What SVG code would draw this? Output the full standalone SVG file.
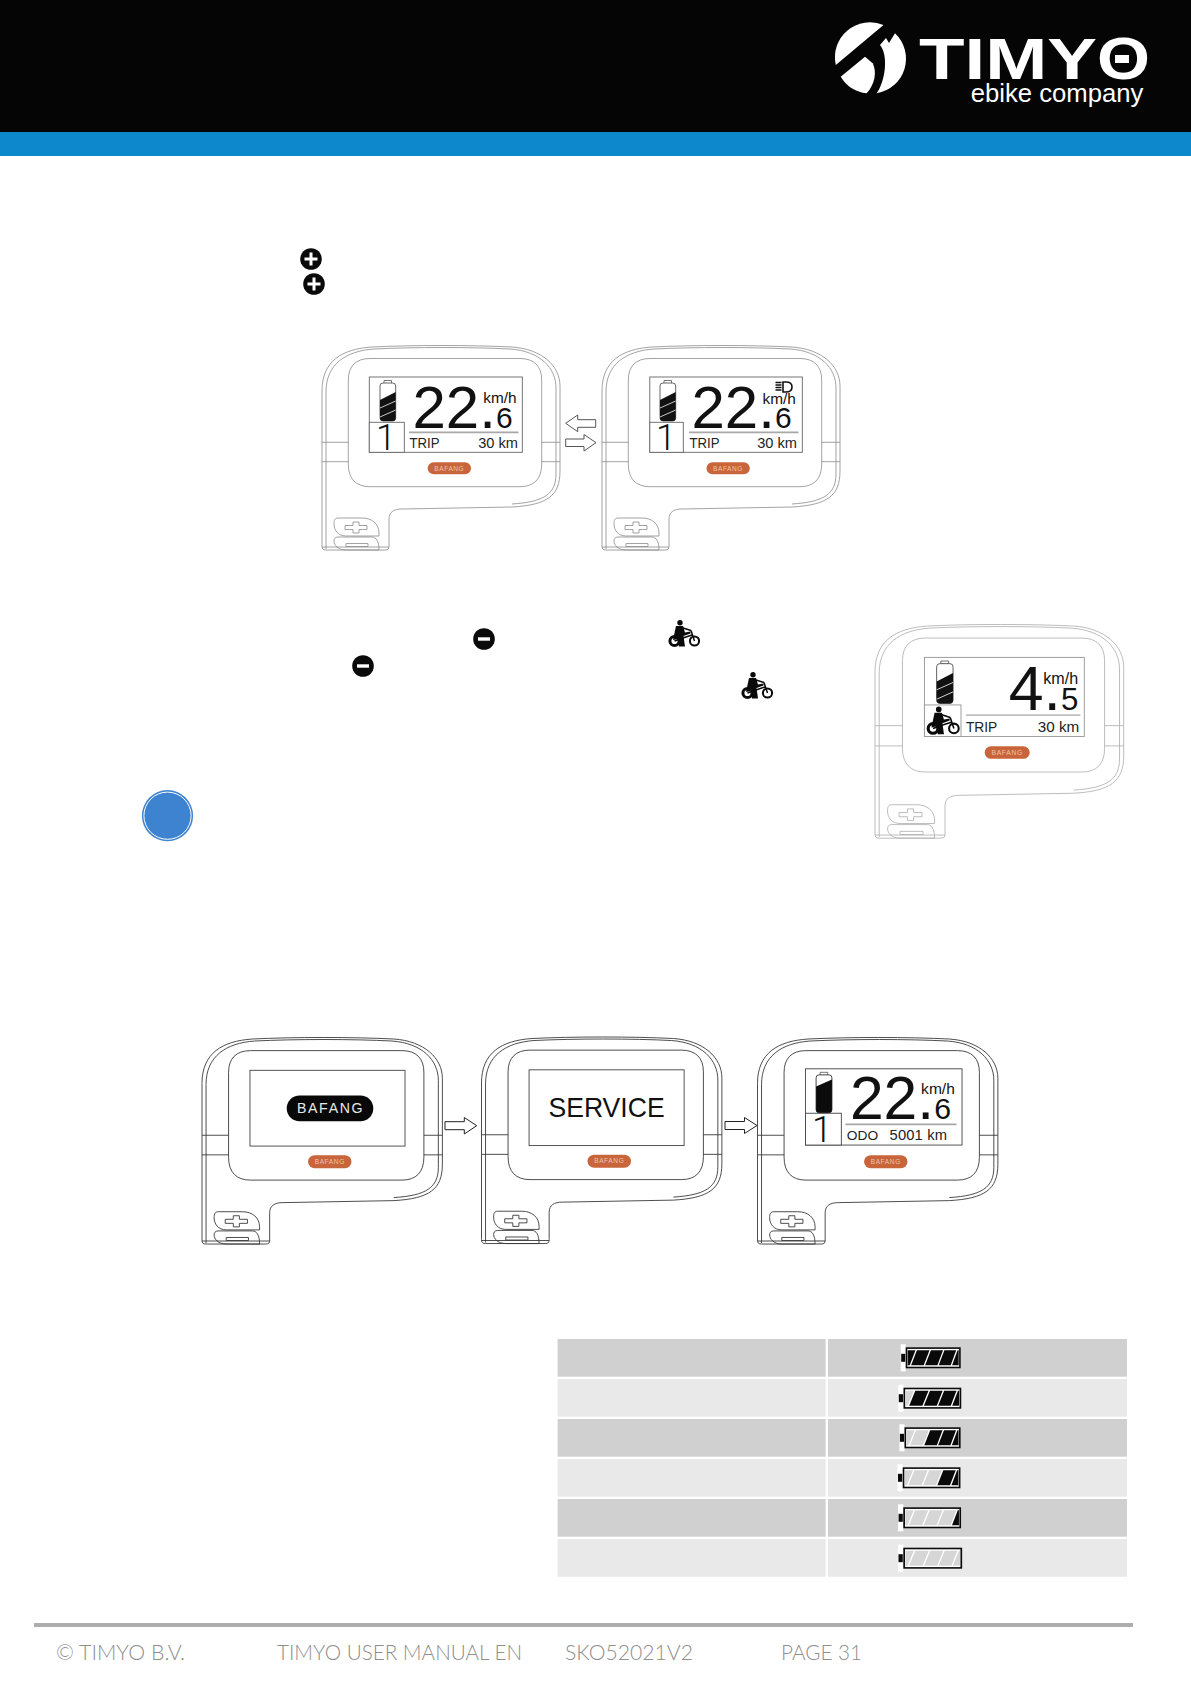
<svg xmlns="http://www.w3.org/2000/svg" xmlns:xlink="http://www.w3.org/1999/xlink" width="1191" height="1684" viewBox="0 0 1191 1684">
<style>
text{font-family:"Liberation Sans",Arial,sans-serif;fill:#111}
.big{font-size:60px}.frac{font-size:30px}
.unit{font-size:15.4px}.info{font-size:14.6px;fill:#222}
.gear{font-family:Roboto,"Liberation Sans",sans-serif;font-weight:300;font-size:36px;text-anchor:middle}
.lcd{fill:#fff;stroke:#666;stroke-width:.9}
.rule{stroke:#a8a8a8;stroke-width:1.8}
.badge{fill:#c9653a}
.bt{font-size:6.5px;fill:#ecc4ac;text-anchor:middle;letter-spacing:.6px}
.arrow{fill:#fff;stroke:#555;stroke-width:1}
.foot{font-family:"Lato","Open Sans",sans-serif;font-weight:300;font-size:22px;fill:#8e8e8e}
.ro{fill:#d0d0d0}.re{fill:#e9e9e9}
.seg{fill:#d6d6d6}.blk{fill:#0a0a0a}
</style>
<defs>
<g id="shell" fill="none">
<path fill="#fff" d="M0,200 V45 C0,15 20,3 50,1 C90,-1 150,-1 190,1 C220,3 238,20 238,40 V125 C238,150 225,159 190,161 L80,163 C72,163 67,166 67,173 V200 C67,203 66,204 63,204 H4 C1,204 0,203 0,200 Z"/>
<path d="M4,203 V46 C4,18 24,5 52,3 C92,1 150,1 188,3 C218,5 234,22 234,42 V128 C234,148 222,156 190,158"/>
<path d="M48,12.5 H198 C212,12.5 219.7,20 219.7,34 V118 C219.7,133 212,140.7 198,140.7 H48 C34,140.7 26.3,133 26.3,118 V34 C26.3,20 34,12.5 48,12.5 Z"/>
<path d="M0,96.3 H26.3 M219.7,96.3 H238 M0,115.7 H26.3 M219.7,115.7 H238 M0,201 H67"/>
<path d="M16,172 H40 C50,172 57,178 57,187 V190 H24 C16,190 12,184 12,178 C12,174 13,172 16,172 Z"/>
<path d="M16,191 H50 C54,191 57,195 57,204 H24 C16,204 12,199 12,195 C12,193 13,191 16,191 Z"/>
<path d="M23,179.5 H31 V176 H37 V179.5 H45 V183.5 H37 V187 H31 V183.5 H23 Z"/>
<path d="M24,197.5 H46 V200.5 H24 Z"/>
</g>
<g id="batA">
<path d="M62,34.5 H69.5 V37.5 H62 Z" fill="#fff" stroke="#555" stroke-width=".8"/>
<rect x="58" y="37" width="15.7" height="38" rx="3" fill="#fff" stroke="#555" stroke-width=".9"/>
<path d="M58,54 L73.7,46 V72 Q73.7,75 70.7,75 H61 Q58,75 58,72 Z" fill="#111"/>
<path d="M58,62 L73.7,55 M58,71 L73.7,64" stroke="#ddd" stroke-width=".9"/>
</g>
<g id="batB">
<path d="M62,34 H69.5 V37 H62 Z" fill="#fff" stroke="#555" stroke-width=".8"/>
<rect x="58" y="36.5" width="15.7" height="37.5" rx="3" fill="#fff" stroke="#333" stroke-width=".9"/>
<path d="M58,48 L73.7,41 V71 Q73.7,74 70.7,74 H61 Q58,74 58,71 Z" fill="#0b0b0b"/>
</g>
<g id="bike">
<circle cx="6.5" cy="21" r="4.6" fill="none" stroke="#0a0a0a" stroke-width="3"/>
<circle cx="26.5" cy="21" r="4.6" fill="none" stroke="#0a0a0a" stroke-width="2"/>
<circle cx="12" cy="2.8" r="2.7" fill="#0a0a0a"/>
<path d="M8,6 H15 L17,12.5 L22.5,11.5 L22.5,13.5 L15.5,16 L17,26.5 H11 L10.5,19 L5,20 Z" fill="#0a0a0a"/>
<path d="M15,8 L23,10.5 M23,10.5 L26.5,21 M6.5,21 L15,18 L24,15" fill="none" stroke="#0a0a0a" stroke-width="1.5"/>
</g>
<g id="batt">
<rect x="-5" y="-3" width="5" height="27" fill="#fff"/>
<rect x="-4.5" y="6.5" width="4" height="8" fill="#0a0a0a"/>
<rect x=".8" y=".8" width="53.4" height="19.4" fill="#fff" stroke="#0a0a0a" stroke-width="1.6"/>
</g>
<g id="plus"><circle r="10.8" fill="#0a0a0a"/><path d="M-6.5,-1.5 H-1.5 V-6.5 H1.5 V-1.5 H6.5 V1.5 H1.5 V6.5 H-1.5 V1.5 H-6.5 Z" fill="#fff"/></g>
<g id="minus"><circle r="10.8" fill="#0a0a0a"/><rect x="-6" y="-1.7" width="12" height="3.4" fill="#fff"/></g>
</defs>
<rect width="1191" height="1684" fill="#fff"/>

<g id="header">
<rect width="1191" height="132" fill="#050505"/>
<rect y="132" width="1191" height="24" fill="#0e88cc"/>
<g id="logo">
<g fill="#fff">
<path d="M883.5,25 A35,35 0 0 0 835.8,65 Z"/>
<path d="M865,56.7 L840.7,76.7 A35,35 0 0 0 866.7,93.3 C875,84 877,72 872.7,63.3 Z"/>
<path d="M895,33.3 A35,35 0 0 1 876.7,93.3 C885,82 889,56 880,45 L886,38 L889,43 Z"/>
<text x="919" y="79" font-size="58" font-weight="700" textLength="178" lengthAdjust="spacingAndGlyphs" style="fill:#fff">TIMY</text>
<text x="1097" y="79" font-size="59" font-weight="700" textLength="53" lengthAdjust="spacingAndGlyphs" style="fill:#fff">O</text>
<rect x="1115" y="55" width="14" height="8"/>
<text x="970.7" y="101.7" font-size="25.7" style="fill:#fff">ebike company</text>
</g>
</g>
</g>

<g id="icons">
<use href="#plus" x="311" y="259"/>
<use href="#plus" x="314" y="284"/>
<use href="#minus" x="484" y="639"/>
<use href="#minus" x="363" y="666"/>
<use href="#bike" x="668" y="620"/>
<use href="#bike" x="741" y="672"/>
</g>

<g id="device-trip" transform="translate(322,346)">
<use href="#shell" stroke="#8c8c8c" stroke-width=".8"/>
<rect class="lcd" x="47.3" y="31" width="153" height="75.3"/>
<rect class="lcd" x="47.3" y="76.3" width="35" height="30"/>
<use href="#batA"/>
<text class="gear" x="64" y="104">1</text>
<text class="big" x="90.5" y="82">22.<tspan class="frac">6</tspan></text>
<text class="unit" x="161.3" y="56.7">km/h</text>
<line class="rule" x1="87" y1="86.3" x2="196.5" y2="86.3"/>
<text class="info" x="87.5" y="102.3" textLength="30" lengthAdjust="spacingAndGlyphs">TRIP</text>
<text class="info" x="196" y="102.3" text-anchor="end">30 km</text>
<rect class="badge" x="105.7" y="116.3" width="43.3" height="12" rx="6"/>
<text class="bt" x="127.3" y="124.7">BAFANG</text>
</g>

<g id="device-light" transform="translate(602,346)">
<use href="#shell" stroke="#8c8c8c" stroke-width=".8"/>
<rect class="lcd" x="47.8" y="31" width="152.5" height="75.3"/>
<rect class="lcd" x="47.8" y="76.3" width="33.5" height="30"/>
<use href="#batA"/>
<text class="gear" x="64" y="104">1</text>
<text class="big" x="89.5" y="82">22.<tspan class="frac">6</tspan></text>
<path d="M181,36 H184 C188,36 190,38 190,41 C190,44 188,46 184,46 H181 Z" fill="#fff" stroke="#111" stroke-width="1.6"/>
<path d="M173.5,36.5 H179.5 M173.5,39 H179.5 M173.5,41.5 H179.5 M173.5,44 H179.5" stroke="#111" stroke-width="1.5"/>
<text class="unit" x="160.5" y="58">km/h</text>
<line class="rule" x1="87" y1="86.3" x2="196.5" y2="86.3"/>
<text class="info" x="87.5" y="102.3" textLength="30" lengthAdjust="spacingAndGlyphs">TRIP</text>
<text class="info" x="195" y="102.3" text-anchor="end">30 km</text>
<rect class="badge" x="104.5" y="116.3" width="43.3" height="12" rx="6"/>
<text class="bt" x="126" y="124.7">BAFANG</text>
</g>

<g id="device-walk" transform="translate(875,625) scale(1.045)">
<use href="#shell" stroke="#b0b0b0" stroke-width=".8"/>
<rect class="lcd" x="47.3" y="31" width="153" height="75.7" style="stroke:#999"/>
<rect class="lcd" x="47.3" y="76.5" width="35" height="30.2" style="stroke:#999"/>
<use href="#batA" transform="translate(1,0)"/>
<use href="#bike" transform="translate(49,78)"/>
<text class="big" x="128" y="81.3">4.<tspan class="frac">5</tspan></text>
<text class="unit" x="161" y="56.7">km/h</text>
<line class="rule" x1="87" y1="86.3" x2="196.5" y2="86.3" style="stroke:#c0c0c0"/>
<text class="info" x="87" y="102.3" textLength="30" lengthAdjust="spacingAndGlyphs">TRIP</text>
<text class="info" x="195.5" y="102.3" text-anchor="end">30 km</text>
<rect class="badge" x="105" y="116" width="43" height="12" rx="6"/>
<text class="bt" x="126.5" y="124.4">BAFANG</text>
</g>

<g id="device-boot" transform="translate(202,1038) scale(1.01)">
<use href="#shell" stroke="#3c3c3c" stroke-width=".9"/>
<rect class="lcd" x="47.5" y="32" width="153.5" height="75" style="stroke:#444"/>
<rect x="83.9" y="57" width="85.7" height="25.4" rx="12.7" fill="#080808"/>
<text x="126.5" y="74.5" font-size="14" text-anchor="middle" textLength="65" lengthAdjust="spacing" style="fill:#e8e8e8">BAFANG</text>
<rect class="badge" x="105" y="116" width="43" height="13" rx="6.5"/>
<text class="bt" x="126.5" y="124.7">BAFANG</text>
</g>

<g id="device-service" transform="translate(481.5,1037.5) scale(1.01)">
<use href="#shell" stroke="#3c3c3c" stroke-width=".9"/>
<rect class="lcd" x="47.1" y="32" width="153.5" height="75" style="stroke:#444"/>
<text x="123.8" y="79.2" font-size="26.7" text-anchor="middle" textLength="115" lengthAdjust="spacingAndGlyphs">SERVICE</text>
<rect class="badge" x="105" y="116" width="43" height="13" rx="6.5"/>
<text class="bt" x="126.5" y="124.7">BAFANG</text>
</g>

<g id="device-odo" transform="translate(757.5,1038) scale(1.01)">
<use href="#shell" stroke="#3c3c3c" stroke-width=".9"/>
<rect class="lcd" x="47.5" y="30.5" width="155" height="75.5" style="stroke:#444"/>
<rect class="lcd" x="47.5" y="74.5" width="35.5" height="31.5" style="stroke:#444"/>
<use href="#batB"/>
<text class="gear" x="64" y="103">1</text>
<text class="big" x="91.5" y="80.5">22.<tspan class="frac">6</tspan></text>
<text class="unit" x="162" y="55.7">km/h</text>
<line class="rule" x1="87" y1="85.5" x2="197" y2="85.5"/>
<text x="88.5" y="101" font-size="13" textLength="31" lengthAdjust="spacingAndGlyphs" style="fill:#222">ODO</text>
<text class="info" x="130.7" y="101" textLength="57" lengthAdjust="spacing">5001 km</text>
<rect class="badge" x="105.5" y="116" width="43" height="13" rx="6.5"/>
<text class="bt" x="127" y="124.7">BAFANG</text>
</g>

<g id="connectors">
<path class="arrow" d="M595.7,419.7 H577.7 V415 L565.7,423.3 L577.7,431.7 V427.3 H595.7 Z"/>
<path class="arrow" d="M565.7,439 H584 V434.5 L596,442.7 L584,451 V446.5 H565.7 Z"/>
<path class="arrow" d="M445,1121.7 H464.3 V1117.5 L476.7,1125.7 L464.3,1134 V1129.7 H445 Z" style="stroke:#222"/>
<path class="arrow" d="M725,1121.5 H744.5 V1117.5 L757,1125.5 L744.5,1133.5 V1129.5 H725 Z" style="stroke:#222"/>
</g>

<g id="note-marker">
<circle cx="167.5" cy="815.7" r="25.6" fill="#3d83d0"/>
<circle cx="167.5" cy="815.7" r="23.6" fill="none" stroke="#fff" stroke-width="1"/>
</g>

<g id="battery-table">
<rect class="ro" x="557.6" y="1339" width="268" height="37.7"/><rect class="ro" x="828" y="1339" width="299" height="37.7"/>
<rect class="re" x="557.6" y="1379" width="268" height="37.7"/><rect class="re" x="828" y="1379" width="299" height="37.7"/>
<rect class="ro" x="557.6" y="1419" width="268" height="37.7"/><rect class="ro" x="828" y="1419" width="299" height="37.7"/>
<rect class="re" x="557.6" y="1459" width="268" height="37.7"/><rect class="re" x="828" y="1459" width="299" height="37.7"/>
<rect class="ro" x="557.6" y="1499" width="268" height="37.7"/><rect class="ro" x="828" y="1499" width="299" height="37.7"/>
<rect class="re" x="557.6" y="1539" width="268" height="37.7"/><rect class="re" x="828" y="1539" width="299" height="37.7"/>

<g transform="translate(905.7,1347.3)"><use href="#batt"/>
<path class="blk" d="M2,3 H9.8 L4,18 H2 Z"/><path class="blk" d="M11.2,3 H23.8 L18,18 H5.4 Z"/><path class="blk" d="M25.2,3 H37.3 L31.7,18 H19.4 Z"/><path class="blk" d="M38.7,3 H50.5 L45,18 H33 Z"/><path class="blk" d="M51.9,3 H53 V18 H46.4 Z"/></g>
<g transform="translate(903.5,1387.7) scale(1.05,1)"><use href="#batt"/>
<path class="seg" d="M2,3 H9.8 L4,18 H2 Z"/><path class="blk" d="M11.2,3 H23.8 L18,18 H5.4 Z"/><path class="blk" d="M25.2,3 H37.3 L31.7,18 H19.4 Z"/><path class="blk" d="M38.7,3 H50.5 L45,18 H33 Z"/><path class="blk" d="M51.9,3 H53 V18 H46.4 Z"/></g>
<g transform="translate(904.5,1427.3) scale(1.02,1)"><use href="#batt"/>
<path class="seg" d="M2,3 H9.8 L4,18 H2 Z"/><path class="seg" d="M11.2,3 H23.8 L18,18 H5.4 Z"/><path class="blk" d="M25.2,3 H37.3 L31.7,18 H19.4 Z"/><path class="blk" d="M38.7,3 H50.5 L45,18 H33 Z"/><path class="blk" d="M51.9,3 H53 V18 H46.4 Z"/></g>
<g transform="translate(902.7,1467.3) scale(1.05,1)"><use href="#batt"/>
<path class="seg" d="M2,3 H9.8 L4,18 H2 Z"/><path class="seg" d="M11.2,3 H23.8 L18,18 H5.4 Z"/><path class="seg" d="M25.2,3 H37.3 L31.7,18 H19.4 Z"/><path class="blk" d="M38.7,3 H50.5 L45,18 H33 Z"/><path class="blk" d="M51.9,3 H53 V18 H46.4 Z"/></g>
<g transform="translate(903.3,1507.3) scale(1.05,1)"><use href="#batt"/>
<path class="seg" d="M2,3 H9.8 L4,18 H2 Z"/><path class="seg" d="M11.2,3 H23.8 L18,18 H5.4 Z"/><path class="seg" d="M25.2,3 H37.3 L31.7,18 H19.4 Z"/><path class="seg" d="M38.7,3 H50.5 L45,18 H33 Z"/><path class="blk" d="M51.9,3 H53 V18 H46.4 Z"/></g>
<g transform="translate(903.3,1547.7) scale(1.07,1)"><use href="#batt"/>
<path class="seg" d="M2,3 H9.8 L4,18 H2 Z"/><path class="seg" d="M11.2,3 H23.8 L18,18 H5.4 Z"/><path class="seg" d="M25.2,3 H37.3 L31.7,18 H19.4 Z"/><path class="seg" d="M38.7,3 H50.5 L45,18 H33 Z"/><path class="seg" d="M51.9,3 H53 V18 H46.4 Z"/></g>
</g>

<g id="footer">
<rect x="34" y="1623" width="1099" height="4" fill="#adadad"/>
<text class="foot" x="56" y="1660" textLength="129" lengthAdjust="spacingAndGlyphs">© TIMYO B.V.</text>
<text class="foot" x="277" y="1660" textLength="245" lengthAdjust="spacingAndGlyphs">TIMYO USER MANUAL EN</text>
<text class="foot" x="565" y="1660" textLength="128" lengthAdjust="spacingAndGlyphs">SKO52021V2</text>
<text class="foot" x="781" y="1660" textLength="81" lengthAdjust="spacingAndGlyphs">PAGE 31</text>
</g>
</svg>
